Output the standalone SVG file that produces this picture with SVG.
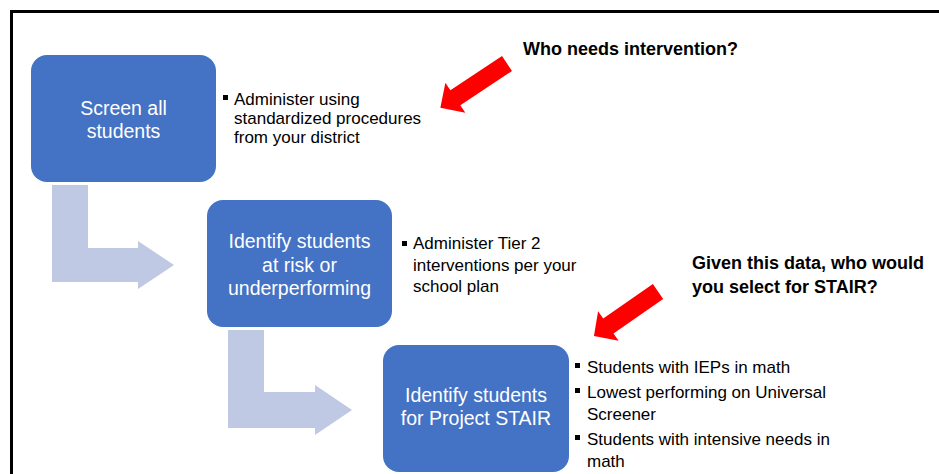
<svg xmlns="http://www.w3.org/2000/svg" width="939" height="474" viewBox="0 0 939 474">
<defs>
<style>
.box{fill:#4472C4;}
.bt{font-family:"Liberation Sans",Arial,sans-serif;font-size:19.5px;fill:#FFFFFF;text-anchor:middle;}
.tx{font-family:"Liberation Sans",Arial,sans-serif;font-size:17px;fill:#000000;}
.q{font-family:"Liberation Sans",Arial,sans-serif;font-size:18px;font-weight:bold;fill:#000000;}
.bul{fill:#000000;}
.flow{fill:#BFC9E3;}
.red{fill:#FF0000;}
</style>
<polygon id="redArrow" points="0,-9 62,-9 62,-18 80,0 62,18 62,9 0,9"/>
</defs>
<rect x="0" y="0" width="939" height="474" fill="#FFFFFF"/>
<path d="M11.5 474 V11.5 H939" fill="none" stroke="#000000" stroke-width="3"/>

<g id="connectors">
<polygon class="flow" points="52,185 88,185 88,248 138,248 138,241 174,265 138,289 138,282 52,282"/>
<polygon class="flow" points="228,330 264,330 264,392 315,392 315,385 352,410 315,435 315,428 228,428"/>
<use href="#redArrow" class="red" transform="translate(507,63.5) rotate(146.4)"/>
<use href="#redArrow" class="red" transform="translate(658,291.5) rotate(145.2) scale(0.975,1)"/>
</g>

<g id="node-screen">
<rect class="box" x="31" y="55" width="185" height="127" rx="16"/>
<text class="bt" x="123.5" y="114.5">Screen all</text>
<text class="bt" x="123.5" y="138">students</text>
</g>

<g id="note-screen">
<rect class="bul" x="223" y="95" width="5" height="5"/>
<text class="tx" x="234" y="105">Administer using</text>
<text class="tx" x="234" y="124">standardized procedures</text>
<text class="tx" x="234" y="143">from your district</text>
</g>

<g id="node-identify-risk">
<rect class="box" x="207" y="200" width="185" height="127" rx="16"/>
<text class="bt" x="299.5" y="248">Identify students</text>
<text class="bt" x="299.5" y="271.5">at risk or</text>
<text class="bt" x="299.5" y="295">underperforming</text>
</g>

<g id="note-identify-risk">
<rect class="bul" x="402" y="241" width="5" height="5"/>
<text class="tx" x="413" y="249">Administer Tier 2</text>
<text class="tx" x="413" y="271">interventions per your</text>
<text class="tx" x="413" y="292">school plan</text>
</g>

<g id="node-identify-stair">
<rect class="box" x="383" y="345" width="186" height="127" rx="16"/>
<text class="bt" x="476" y="402">Identify students</text>
<text class="bt" x="476" y="425">for Project STAIR</text>
</g>

<g id="note-identify-stair">
<rect class="bul" x="575" y="363" width="5" height="5"/>
<text class="tx" x="587" y="373">Students with IEPs in math</text>
<rect class="bul" x="575" y="388" width="5" height="5"/>
<text class="tx" x="587" y="398">Lowest performing on Universal</text>
<text class="tx" x="587" y="420">Screener</text>
<rect class="bul" x="575" y="435" width="5" height="5"/>
<text class="tx" x="587" y="445">Students with intensive needs in</text>
<text class="tx" x="587" y="467">math</text>
</g>

<g id="question-1">
<text class="q" x="523" y="55">Who needs intervention?</text>
</g>
<g id="question-2">
<text class="q" x="692" y="269">Given this data, who would</text>
<text class="q" x="692" y="293">you select for STAIR?</text>
</g>
</svg>
